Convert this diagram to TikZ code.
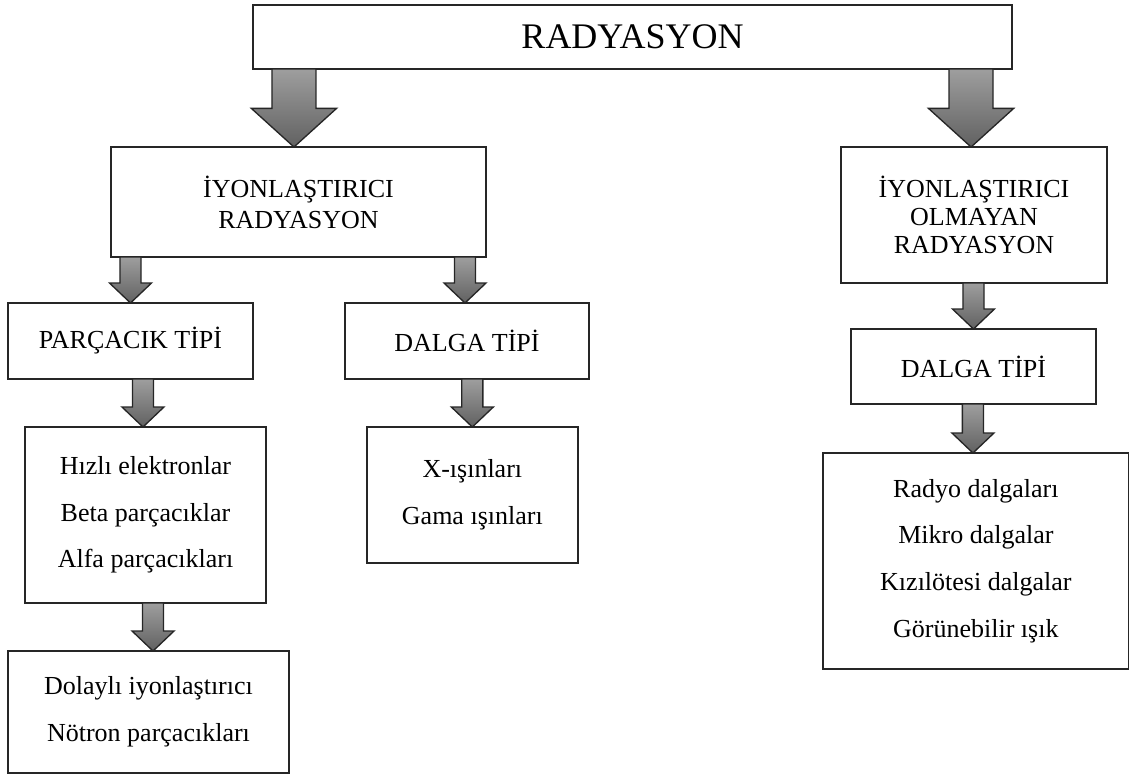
\documentclass[tikz,border=0pt]{standalone}
\usepackage{fontspec}
\setmainfont{Liberation Serif}
\usetikzlibrary{calc}
\usetikzlibrary{positioning}
\tikzstyle{box} = [draw=black!85, line width=1.3pt, fill=white, align=center, inner sep=0pt, outer sep=0pt]
\newcommand{\labelfont}{\fontsize{19.5}{35}\selectfont}

\begin{document}
\begin{tikzpicture}[x=0.75pt,y=-0.75pt,
      head node/.style={box,font=\fontsize{27}{32}\selectfont},
      main node/.style={box,font=\labelfont},
      block arrow/.style n args={3}{top color=black!38, bottom color=black!62,
        draw=black!85, line width=1pt,
        to path={let \p1=(\tikztostart), \p2=(\tikztotarget) in
          (\x2-#1,\y1) -- (\x2-#1,\y2+#3) -- (\x2-#2,\y2+#3) -- (\x2,\y2)
          -- (\x2+#2,\y2+#3) -- (\x2+#1,\y2+#3) -- (\x2+#1,\y1) -- cycle}},
      big arrow/.style={block arrow={16.5pt}{32pt}{29pt}},
      small arrow/.style={block arrow={7.9pt}{15.75pt}{15pt}}]
  \useasboundingbox (0,0) rectangle (1131,776);

  \node[head node,minimum width=569pt,minimum height=48pt] (RAD) at (632.5,37) {RADYASYON};

  \node[main node,minimum width=281pt,minimum height=82.5pt,font=\fontsize{19.5}{23.25}\selectfont]
    (ION) at (298.5,202) {İYONLAŞTIRICI\\RADYASYON};
  \node[main node,minimum width=199.5pt,minimum height=102pt,font=\fontsize{19.5}{21}\selectfont]
    (NION) at (974,215) {İYONLAŞTIRICI\\OLMAYAN\\RADYASYON};

  \node[main node,minimum width=183.75pt,minimum height=57pt] (PAR) at (130.5,341) {PARÇACIK TİPİ};
  \node[main node,minimum width=183pt,minimum height=57pt] (DAL) at (467,341) {DALGA TİPİ};

  \node[main node,minimum width=180.75pt,minimum height=132pt] (HIZ) [below=36pt of PAR, xshift=11.25pt]
    {Hızlı elektronlar\\Beta parçacıklar\\Alfa parçacıkları};
  \node[main node,minimum width=158.25pt,minimum height=102pt] (XIS) [below=36pt of DAL, xshift=4pt]
    {X-ışınları\\Gama ışınları};
  \node[main node,minimum width=210.75pt,minimum height=91.5pt] (DOL) [below=36pt of HIZ, xshift=2.25pt]
    {Dolaylı iyonlaştırıcı\\Nötron parçacıkları};

  \node[main node,minimum width=183.75pt,minimum height=56.25pt] (NDAL) [below=34.5pt of NION, xshift=-0.4pt]
    {DALGA TİPİ};
  \node[main node,minimum width=229pt,minimum height=162pt] (NLIST) [below=36.75pt of NDAL, xshift=1.8pt]
    {Radyo dalgaları\\Mikro dalgalar\\Kızılötesi dalgalar\\Görünebilir ışık};

  \draw[big arrow] ([xshift=-3.4pt]RAD.south -| ION.north) to ([xshift=-3.4pt]ION.north);
  \draw[big arrow] ([xshift=-2.2pt]RAD.south -| NION.north) to ([xshift=-2.2pt]NION.north);

  \draw[small arrow] (ION.south -| PAR.north) to (PAR.north);
  \draw[small arrow] (ION.south -| DAL.north) to ([xshift=-1.5pt]DAL.north);
  \draw[small arrow] (PAR.south -| HIZ.north) to ([xshift=-1.9pt]HIZ.north);
  \draw[small arrow] (DAL.south -| XIS.north) to (XIS.north);
  \draw[small arrow] (HIZ.south -| DOL.north) to ([xshift=3.4pt]DOL.north);
  \draw[small arrow] (NION.south -| NDAL.north) to (NDAL.north);
  \draw[small arrow] (NDAL.south -| NLIST.north) to ([xshift=-2.2pt]NLIST.north);
\end{tikzpicture}
\end{document}
